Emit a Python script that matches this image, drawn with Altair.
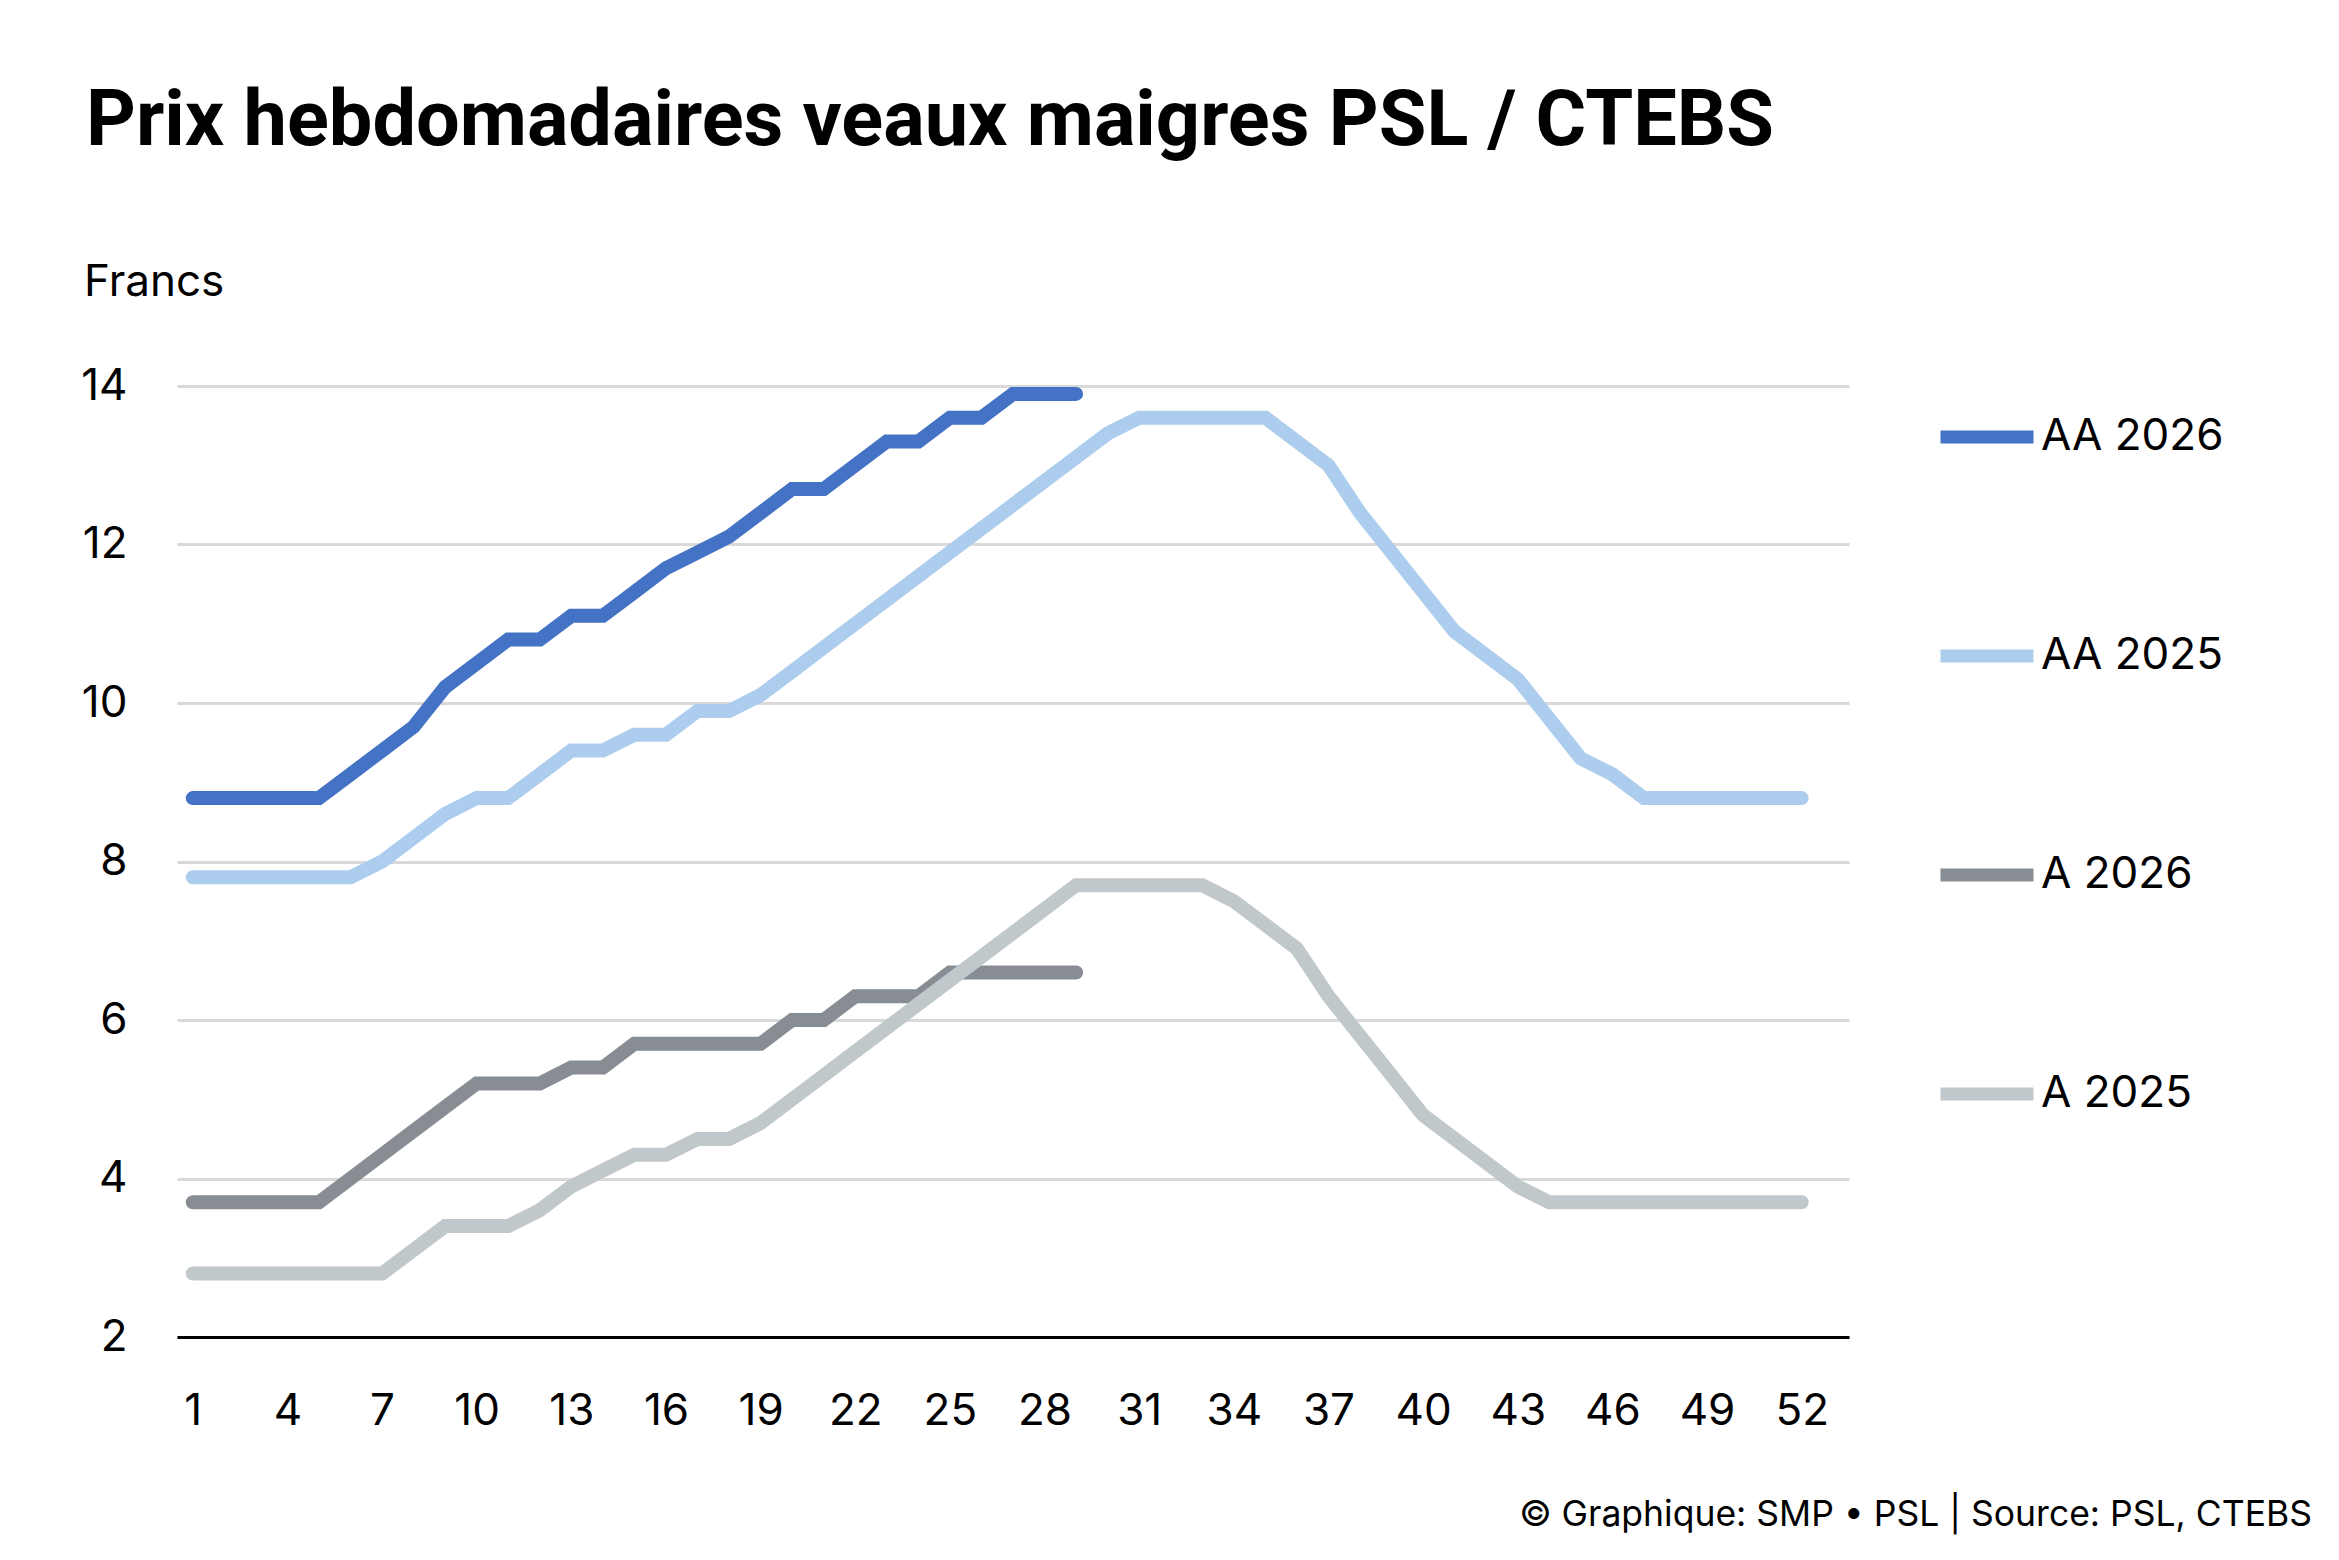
import altair as alt
import pandas as pd

weeks = list(range(1, 53))
series_names = ["AA 2026", "AA 2025", "A 2026", "A 2025"]
series_colors = ["#4472C4", "#ADCDEE", "#878D93", "#C1C8CB"]

aa2026 = [8.8, 8.8, 8.8, 8.8, 8.8, 9.1, 9.4, 9.7, 10.2, 10.5,
          10.8, 10.8, 11.1, 11.1, 11.4, 11.7, 11.9, 12.1, 12.4, 12.7,
          12.7, 13.0, 13.3, 13.3, 13.6, 13.6, 13.9, 13.9, 13.9]
aa2025 = [7.8, 7.8, 7.8, 7.8, 7.8, 7.8, 8.0, 8.3, 8.6, 8.8,
          8.8, 9.1, 9.4, 9.4, 9.6, 9.6, 9.9, 9.9, 10.1, 10.4,
          10.7, 11.0, 11.3, 11.6, 11.9, 12.2, 12.5, 12.8, 13.1, 13.4,
          13.6, 13.6, 13.6, 13.6, 13.6, 13.3, 13.0, 12.4, 11.9, 11.4,
          10.9, 10.6, 10.3, 9.8, 9.3, 9.1, 8.8, 8.8, 8.8, 8.8,
          8.8, 8.8]
a2026 = [3.7, 3.7, 3.7, 3.7, 3.7, 4.0, 4.3, 4.6, 4.9, 5.2,
         5.2, 5.2, 5.4, 5.4, 5.7, 5.7, 5.7, 5.7, 5.7, 6.0,
         6.0, 6.3, 6.3, 6.3, 6.6, 6.6, 6.6, 6.6, 6.6]
a2025 = [2.8, 2.8, 2.8, 2.8, 2.8, 2.8, 2.8, 3.1, 3.4, 3.4,
         3.4, 3.6, 3.9, 4.1, 4.3, 4.3, 4.5, 4.5, 4.7, 5.0,
         5.3, 5.6, 5.9, 6.2, 6.5, 6.8, 7.1, 7.4, 7.7, 7.7,
         7.7, 7.7, 7.7, 7.5, 7.2, 6.9, 6.3, 5.8, 5.3, 4.8,
         4.5, 4.2, 3.9, 3.7, 3.7, 3.7, 3.7, 3.7, 3.7, 3.7,
         3.7, 3.7]

x_tick_values = list(range(1, 53, 3))
y_tick_values = [2, 4, 6, 8, 10, 12, 14]

title_text = "Prix hebdomadaires veaux maigres PSL / CTEBS"
unit_text = "Francs"
footer_text = "© Graphique: SMP • PSL | Source: PSL, CTEBS"

FONT = "Inter"

rows = []
for name, vals in zip(series_names, [aa2026, aa2025, a2026, a2025]):
    for w, v in zip(weeks, vals):
        rows.append({"semaine": w, "prix": v, "serie": name})
df = pd.DataFrame(rows)

lines = alt.Chart(df).mark_line(strokeWidth=14, strokeCap="round", strokeJoin="miter").encode(
    x=alt.X(
        "semaine:Q",
        scale=alt.Scale(domain=[0.5, 53.5], nice=False, zero=False),
        axis=alt.Axis(
            values=x_tick_values, title=None, grid=False, domain=True,
            domainColor="black", domainWidth=3, ticks=False,
            labelFontSize=44, labelFont=FONT, labelColor="black",
            labelPadding=74, labelBaseline="middle", labelFlush=False,
            labelOverlap=False, format="d",
        ),
    ),
    y=alt.Y(
        "prix:Q",
        scale=alt.Scale(domain=[2, 14], nice=False, zero=False),
        axis=alt.Axis(
            values=y_tick_values, title=None, domain=False, ticks=False,
            grid=True, gridColor="#D9D9D9", gridWidth=3,
            labelFontSize=44, labelFont=FONT, labelColor="black",
            labelPadding=50, labelFlush=False, format="d",
        ),
    ),
    color=alt.Color(
        "serie:N",
        scale=alt.Scale(domain=series_names, range=series_colors),
        sort=series_names,
        legend=alt.Legend(
            title=None, orient="none", legendX=1757, legendY=-2,
            symbolType="stroke", symbolSize=8649, symbolStrokeWidth=13,
            labelFontSize=44, labelFont=FONT, labelColor="black",
            labelLimit=500, rowPadding=140, labelOffset=1, padding=0,
        ),
    ),
)

title_mark = alt.Chart(pd.DataFrame({"t": [title_text]})).mark_text(
    align="left", baseline="alphabetic", fontSize=77.5, fontWeight="bold",
    font="Roboto", color="black",
).encode(text="t:N", x=alt.value(-91), y=alt.value(-241))

unit_mark = alt.Chart(pd.DataFrame({"t": [unit_text]})).mark_text(
    align="left", baseline="middle", fontSize=44, font=FONT, color="black",
).encode(text="t:N", x=alt.value(-93), y=alt.value(-103))

footer_mark = alt.Chart(pd.DataFrame({"t": [footer_text]})).mark_text(
    align="right", baseline="middle", fontSize=35.5, font=FONT, color="black",
).encode(text="t:N", x=alt.value(2135), y=alt.value(1129))

chart = alt.layer(lines, title_mark, unit_mark, footer_mark).properties(
    width=1672, height=951,
    padding={"left": 169, "top": 378, "right": 482, "bottom": 215},
    autosize=alt.AutoSizeParams(type="none"),
    background="white",
).configure_view(stroke=None)

chart.save("out.html", embed_options={"renderer": "svg", "actions": False})
